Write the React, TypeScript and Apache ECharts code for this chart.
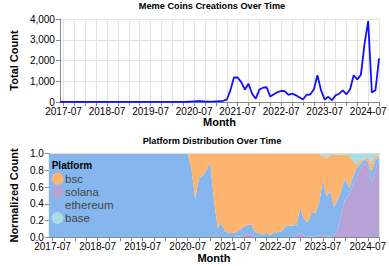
import React, { useEffect, useRef } from "react";
import * as echarts from "echarts";

const months = [
  "2017-06", "2017-07", "2017-08", "2017-09", "2017-10", "2017-11", "2017-12",
  "2018-01", "2018-02", "2018-03", "2018-04", "2018-05", "2018-06", "2018-07", "2018-08", "2018-09", "2018-10", "2018-11", "2018-12",
  "2019-01", "2019-02", "2019-03", "2019-04", "2019-05", "2019-06", "2019-07", "2019-08", "2019-09", "2019-10", "2019-11", "2019-12",
  "2020-01", "2020-02", "2020-03", "2020-04", "2020-05", "2020-06", "2020-07", "2020-08", "2020-09", "2020-10", "2020-11", "2020-12",
  "2021-01", "2021-02", "2021-03", "2021-04", "2021-05", "2021-06", "2021-07", "2021-08", "2021-09", "2021-10", "2021-11", "2021-12",
  "2022-01", "2022-02", "2022-03", "2022-04", "2022-05", "2022-06", "2022-07", "2022-08", "2022-09", "2022-10", "2022-11", "2022-12",
  "2023-01", "2023-02", "2023-03", "2023-04", "2023-05", "2023-06", "2023-07", "2023-08", "2023-09", "2023-10", "2023-11", "2023-12",
  "2024-01", "2024-02", "2024-03", "2024-04", "2024-05", "2024-06", "2024-07", "2024-08", "2024-09", "2024-10",
];

const totalCount = [
  3, 5, 4, 2, 3, 2, 4,
  3, 2, 5, 4, 3, 2, 6, 4, 3, 2, 3, 4,
  2, 3, 4, 3, 5, 4, 3, 6, 5, 4, 6, 5,
  6, 5, 8, 10, 12, 18, 30, 40, 35, 25, 20, 22,
  30, 35, 50, 110, 560, 1190, 1180, 960, 600, 880, 400, 160,
  600, 690, 710, 260, 370, 480, 530, 520, 340, 400, 330, 230,
  120, 350, 360, 600, 1290, 560, 120, 250, 80, 320, 400, 560,
  370, 600, 1290, 1090, 1320, 2810, 3900, 460, 570, 2100,
];

const solanaShare = [
  0, 0, 0, 0, 0, 0, 0,
  0, 0, 0, 0, 0, 0, 0, 0, 0, 0, 0, 0,
  0, 0, 0, 0, 0, 0, 0, 0, 0, 0, 0, 0,
  0, 0, 0, 0, 0, 0, 0, 0, 0, 0, 0, 0,
  0, 0, 0, 0, 0, 0, 0, 0.01, 0.01, 0.03, 0.04, 0.03,
  0.01, 0, 0, 0, 0, 0, 0, 0, 0, 0, 0, 0.02,
  0.05, 0.02, 0.01, 0.01, 0.01, 0.02, 0.03, 0.01, 0.01, 0.02, 0.09, 0.3,
  0.47, 0.5, 0.62, 0.72, 0.82, 0.88, 0.85, 0.65, 0.8, 0.93,
];

const ethereumShare = [
  1, 1, 1, 1, 1, 1, 1,
  1, 1, 1, 1, 1, 1, 1, 1, 1, 1, 1, 1,
  1, 1, 1, 1, 1, 1, 1, 1, 1, 1, 1, 1,
  1, 1, 1, 1, 1, 1, 1, 0.82, 0.46, 0.7, 0.74, 0.8,
  0.89, 0.45, 0.11, 0.17, 0.07, 0.05, 0.05, 0.05, 0.08, 0.1, 0.11, 0.12,
  0.05, 0.05, 0.03, 0.06, 0.02, 0.06, 0.06, 0.07, 0.13, 0.14, 0.14, 0.13,
  0.3, 0.2, 0.17, 0.28, 0.28, 0.38, 0.65, 0.48, 0.54, 0.34, 0.36, 0.27,
  0.24, 0.09, 0.09, 0.11, 0.05, 0.05, 0.05, 0.13, 0.12, 0.03,
];

const bscShare = [
  0, 0, 0, 0, 0, 0, 0,
  0, 0, 0, 0, 0, 0, 0, 0, 0, 0, 0, 0,
  0, 0, 0, 0, 0, 0, 0, 0, 0, 0, 0, 0,
  0, 0, 0, 0, 0, 0, 0, 0.18, 0.54, 0.3, 0.26, 0.2,
  0.11, 0.55, 0.89, 0.83, 0.93, 0.95, 0.95, 0.94, 0.91, 0.87, 0.85, 0.85,
  0.94, 0.95, 0.97, 0.94, 0.98, 0.94, 0.94, 0.93, 0.87, 0.86, 0.86, 0.85,
  0.65, 0.78, 0.82, 0.71, 0.71, 0.6, 0.29, 0.46, 0.43, 0.63, 0.54, 0.42,
  0.28, 0.39, 0.21, 0.04, 0.04, 0.01, 0.05, 0.1, 0.05, 0.02,
];

const baseShare = [
  0, 0, 0, 0, 0, 0, 0,
  0, 0, 0, 0, 0, 0, 0, 0, 0, 0, 0, 0,
  0, 0, 0, 0, 0, 0, 0, 0, 0, 0, 0, 0,
  0, 0, 0, 0, 0, 0, 0, 0, 0, 0, 0, 0,
  0, 0, 0, 0, 0, 0, 0, 0, 0, 0, 0, 0,
  0, 0, 0, 0, 0, 0, 0, 0, 0, 0, 0, 0,
  0, 0, 0, 0, 0, 0, 0.03, 0.05, 0.02, 0.01, 0.01, 0.01,
  0.01, 0.02, 0.08, 0.13, 0.09, 0.06, 0.05, 0.12, 0.03, 0.02,
];

const platforms = ["bsc", "solana", "ethereum", "base"];
const platformColors: Record<string, string> = {
  bsc: "#fdb46e",
  solana: "#b7a3d8",
  ethereum: "#86b6ee",
  base: "#abdbe3",
};

const FONT = "'Liberation Sans', Arial, Helvetica, sans-serif";

function xAxis(gridIndex: number) {
  return {
    type: "category",
    gridIndex,
    data: months,
    boundaryGap: false,
    axisLine: { show: true, lineStyle: { color: "#888", width: 1 } },
    axisTick: {
      show: true,
      length: 4,
      interval: (i: number) => i % 3 === 1,
      lineStyle: { color: "#888" },
    },
    axisLabel: {
      interval: (i: number) => i % 12 === 1,
      fontSize: 10,
      color: "#000",
      margin: 4,
      fontFamily: FONT,
    },
    splitLine: {
      show: true,
      interval: (i: number) => i % 3 === 1,
      lineStyle: { color: "#e2e2e2", width: 1 },
    },
    name: "Month",
    nameLocation: "middle",
    nameGap: 14,
    nameTextStyle: { fontSize: 11, fontWeight: "bold", color: "#000", fontFamily: FONT },
  };
}

export default function App() {
  const ref = useRef<HTMLDivElement>(null);

  useEffect(() => {
    if (!ref.current) return;
    const chart = echarts.init(ref.current, undefined, { renderer: "svg" });

    const stackOrder = ["solana", "ethereum", "bsc", "base"];
    const shareData: Record<string, number[]> = {
      solana: solanaShare,
      ethereum: ethereumShare,
      bsc: bscShare,
      base: baseShare,
    };

    const option: any = {
      animation: false,
      textStyle: { fontFamily: FONT },
      title: [
        {
          text: "Meme Coins Creations Over Time",
          left: 212,
          top: 1.5,
          textAlign: "center",
          padding: 0,
          textStyle: { fontSize: 9.2, fontWeight: "bold", color: "#000", fontFamily: FONT },
        },
        {
          text: "Platform Distribution Over Time",
          left: 212,
          top: 136.5,
          textAlign: "center",
          padding: 0,
          textStyle: { fontSize: 9.2, fontWeight: "bold", color: "#000", fontFamily: FONT },
        },
      ],
      grid: [
        { left: 44, top: 19, width: 335.7, height: 83, containLabel: false },
        { left: 44, top: 153.7, width: 335.7, height: 83.6, containLabel: false },
      ],
      xAxis: [xAxis(0), xAxis(1)],
      yAxis: [
        {
          type: "value",
          gridIndex: 0,
          min: 0,
          max: 4000,
          interval: 1000,
          axisLine: { show: true, lineStyle: { color: "#888" } },
          axisTick: { show: true, length: 4, lineStyle: { color: "#888" } },
          axisLabel: {
            fontSize: 10,
            color: "#000",
            margin: 5,
            fontFamily: FONT,
            formatter: (v: number) => v.toLocaleString("en-US"),
          },
          splitLine: { show: true, lineStyle: { color: "#e2e2e2" } },
          name: "Total Count",
          nameLocation: "middle",
          nameGap: 29.5,
          nameTextStyle: { fontSize: 11, fontWeight: "bold", color: "#000", fontFamily: FONT },
        },
        {
          type: "value",
          gridIndex: 1,
          min: 0,
          max: 1,
          interval: 0.2,
          axisLine: { show: true, lineStyle: { color: "#888" } },
          axisTick: { show: true, length: 4, lineStyle: { color: "#888" } },
          axisLabel: {
            fontSize: 10,
            color: "#000",
            margin: 5,
            fontFamily: FONT,
            formatter: (v: number) => v.toFixed(1),
          },
          splitLine: { show: true, lineStyle: { color: "#e2e2e2" } },
          name: "Normalized Count",
          nameLocation: "middle",
          nameGap: 19.5,
          nameTextStyle: { fontSize: 11, fontWeight: "bold", color: "#000", fontFamily: FONT },
        },
      ],
      legend: {
        data: platforms,
        orient: "vertical",
        left: 51.5,
        top: 172.7,
        icon: "circle",
        itemWidth: 12,
        itemHeight: 12,
        itemGap: 1.1,
        padding: 0,
        textStyle: {
          fontSize: 11.5,
          color: "#444",
          fontFamily: FONT,
          padding: [0, 0, 0, -3.5],
        },
      },
      graphic: [
        {
          type: "text",
          left: 51.7,
          top: 160.5,
          z: 100,
          style: {
            text: "Platform",
            fontSize: 10,
            fontWeight: "bold",
            fill: "#000",
            fontFamily: FONT,
          },
        },
      ],
      series: [
        {
          name: "Total Count",
          type: "line",
          xAxisIndex: 0,
          yAxisIndex: 0,
          data: totalCount,
          symbol: "none",
          lineStyle: { color: "#1010ff", width: 1.8 },
          itemStyle: { color: "#1010ff" },
          z: 5,
        },
        ...stackOrder.map((p) => ({
          name: p,
          type: "line",
          xAxisIndex: 1,
          yAxisIndex: 1,
          stack: "platform",
          data: shareData[p],
          symbol: "none",
          lineStyle: { width: 0, color: platformColors[p] },
          itemStyle: { color: platformColors[p] },
          areaStyle: { color: platformColors[p], opacity: 1 },
        })),
      ],
    };

    chart.setOption(option);
    return () => chart.dispose();
  }, []);

  return (
    <div
      ref={ref}
      style={{ position: "fixed", left: 0, top: 0, width: 389, height: 266, background: "#fff" }}
    />
  );
}
